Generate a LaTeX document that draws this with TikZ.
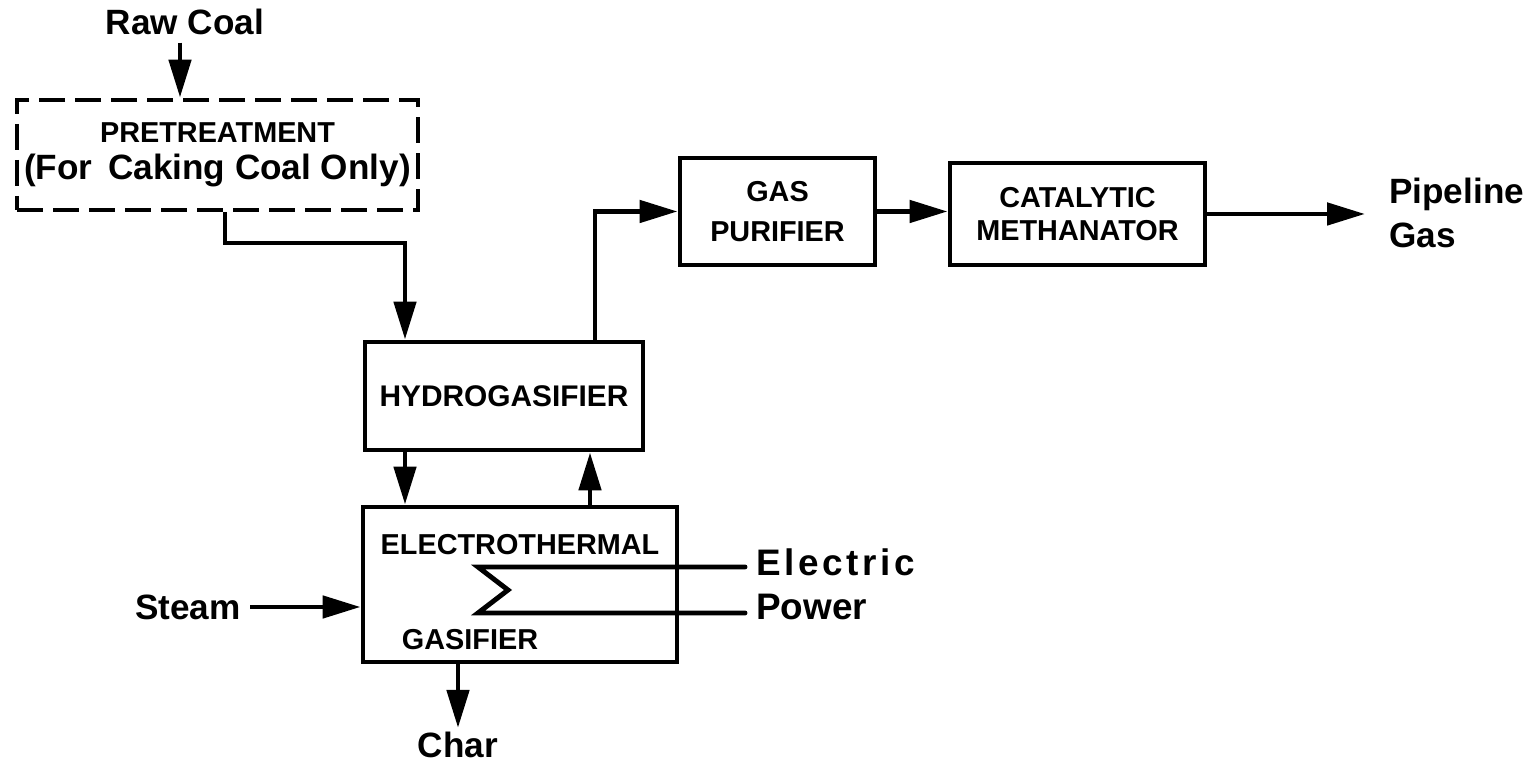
\documentclass[tikz,border=0pt]{standalone}
\usepackage{fontspec}
\setmainfont{Liberation Sans}
\usepackage{tikz}
\usetikzlibrary{arrows.meta, positioning, calc}

\tikzset{
    unit/.style={draw, line width=1.4pt, align=center, inner sep=0pt,
        font=\fontsize{8.2}{11.5}\selectfont\bfseries},
    label/.style={font=\fontsize{10}{12.5}\selectfont\bfseries, inner sep=1pt},
    flow/.style={line width=1.4pt, -{Triangle[length=3.8mm, width=2.2mm]}},
    pipe/.style={line width=1.4pt}
}

\begin{document}
\begin{tikzpicture}
    \useasboundingbox (0,0) rectangle (15.28,7.63);

    % Process units
    \node[unit, dash pattern=on 2.6mm off 1mm, minimum width=4.01cm, minimum height=1.10cm] (pre) at (2.175,6.08)
        {PRETREATMENT\\[-1pt]\fontsize{10}{12}\selectfont (For \,Caking Coal Only)};
    \node[unit, minimum width=2.78cm, minimum height=1.08cm] (hyd) at (5.04,3.67) {\raisebox{-4pt}{\fontsize{8.5}{10}\selectfont HYDROGASIFIER}};
    \node[unit, minimum width=3.14cm, minimum height=1.55cm] (etg) at (5.20,1.785) {};
    \node[unit, minimum width=1.95cm, minimum height=1.07cm] (gp) at (7.775,5.515) {GAS\\PURIFIER};
    \node[unit, minimum width=2.55cm, minimum height=1.02cm] (cm) at (10.775,5.49) {CATALYTIC\\[-2pt]METHANATOR};

    % Text inside the electrothermal gasifier
    \node[font=\fontsize{8.2}{10}\selectfont\bfseries] (etgtop) at (5.20,2.18) {ELECTROTHERMAL};
    \node[font=\fontsize{8.2}{10}\selectfont\bfseries] (etgbot) at (4.70,1.23) {GASIFIER};

    % Streams in and out
    \node[label, inner sep=2pt] (raw) at (1.85,7.41) {Raw Coal};
    \node[label, anchor=east] (steam) at (2.45,1.56) {Steam};
    \node[label] (char) at (4.58,0.18) {Char};
    \node[label, anchor=west, align=left] (gas) at (13.85,5.5) {Pipeline\\Gas};
    \node[label, anchor=west, align=left, font=\fontsize{10.5}{12.5}\selectfont\bfseries] (elec) at (7.52,1.79)
        {{\addfontfeatures{LetterSpace=10}Electric}\\Power};

    % Connectors
    \coordinate (bend) at (4.05,5.20);
    \draw[flow] ([xshift=-0.5mm]raw.south) -- ([xshift=-0.5mm]raw.south |- pre.north);
    \draw[flow] ([xshift=0.75mm]pre.south) |- (bend) -- (bend |- hyd.north);
    \draw[flow] ([xshift=9.1mm]hyd.north) |- (gp.west);
    \draw[flow] (gp.east) -- (gp.east -| cm.west);
    \draw[flow, shorten >=2mm] (cm.east) -- (cm.east -| gas.west);
    \draw[flow] (bend |- hyd.south) -- (bend |- etg.north);
    \draw[flow] ([xshift=7mm]etg.north) -- ([xshift=7mm]etg.north |- hyd.south);
    \draw[flow] ([xshift=0.5mm]steam.east) -- (steam.east -| etg.west);
    \draw[flow] (char.north |- etg.south) -- (char.north);

    % Heating element
    \draw[pipe, line cap=round, line join=miter]
        (7.45,1.96) -- (4.78,1.96) -- (5.08,1.73) -- (4.78,1.50) -- (7.45,1.50);
\end{tikzpicture}
\end{document}
